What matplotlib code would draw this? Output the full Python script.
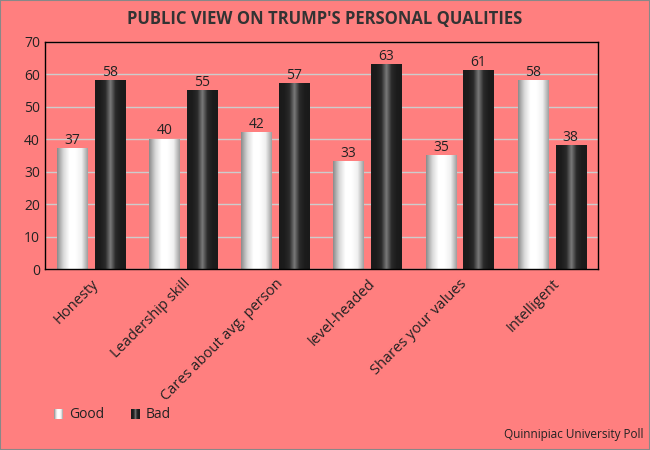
import numpy as np
import matplotlib.pyplot as plt
from matplotlib.colors import LinearSegmentedColormap

categories = ["Honesty", "Leadership skill", "Cares about avg. person",
              "level-headed", "Shares your values", "Intelligent"]
good = [37, 40, 42, 33, 35, 58]
bad = [58, 55, 57, 63, 61, 38]
series_names = ["Good", "Bad"]

bg = "#FF7F7F"
txt = "#222222"
plt.rcParams['font.family'] = ['Open Sans', 'DejaVu Sans']

# cylinder-like shading for the bars
good_cmap = LinearSegmentedColormap.from_list(
    "good", ["#8c8c8c", "#d8d8d8", "#ffffff", "#ffffff", "#f0f0f0", "#a0a0a0"])
bad_cmap = LinearSegmentedColormap.from_list(
    "bad", ["#1a1a1a", "#1c1c1c", "#2a2a2a", "#7a7a7a", "#2a2a2a", "#1c1c1c", "#1a1a1a"])
grad = np.linspace(0, 1, 64).reshape(1, -1)

fig = plt.figure(figsize=(6.5, 4.5), dpi=100, facecolor=bg)
ax = fig.add_axes([0.069, 0.402, 0.851, 0.505])
ax.set_facecolor(bg)

x = np.arange(len(categories))
w = 0.33
off = 0.205

def shaded_bars(xs, vals, cmap):
    bars = ax.bar(xs, vals, w, color="none", edgecolor="none", zorder=2)
    for b in bars:
        x0, y0 = b.get_x(), b.get_y()
        ax.imshow(grad, cmap=cmap, aspect="auto", zorder=2,
                  extent=[x0, x0 + b.get_width(), y0, y0 + b.get_height()])
    for xi, v in zip(xs, vals):
        ax.text(xi, v + 0.3, str(v), ha="center", va="bottom", fontsize=10, color=txt, zorder=3)
    return bars

shaded_bars(x - off, good, good_cmap)
shaded_bars(x + off, bad, bad_cmap)

ax.set_xlim(-0.5, len(categories) - 0.5)
ax.set_ylim(0, 70)
ax.set_yticks(range(0, 71, 10))
ax.yaxis.grid(True, color="#cccccc", linewidth=1)
ax.set_axisbelow(True)
for s in ax.spines.values():
    s.set_color("black")
    s.set_linewidth(1)
ax.tick_params(axis="both", length=0, labelsize=10, colors=txt)
ax.set_xticks(x)
ax.set_xticklabels(categories, rotation=45, ha="right", rotation_mode="anchor", fontsize=10.5)
ax.tick_params(axis="x", pad=5)

fig.text(0.5, 0.958, "PUBLIC VIEW ON TRUMP'S PERSONAL QUALITIES", ha="center", va="center",
         fontsize=12, fontweight="bold", color="#333333")

# legend
lx = [0.083, 0.201]
for xx, name, cmap in zip(lx, series_names, [good_cmap, bad_cmap]):
    lax = fig.add_axes([xx, 0.068, 0.013, 0.024])
    lax.imshow(grad, cmap=cmap, aspect="auto")
    lax.axis("off")
    fig.text(xx + 0.023, 0.079, name, ha="left", va="center", fontsize=10, color=txt)

fig.text(0.99, 0.02, "Quinnipiac University Poll", ha="right", va="bottom", fontsize=8.5, color=txt)

fig.patches.append(plt.Rectangle((0, 0), 1, 1, transform=fig.transFigure, fill=False,
                                 edgecolor="#888888", linewidth=1.5))

fig.savefig("out.png", dpi=100, facecolor=bg)
